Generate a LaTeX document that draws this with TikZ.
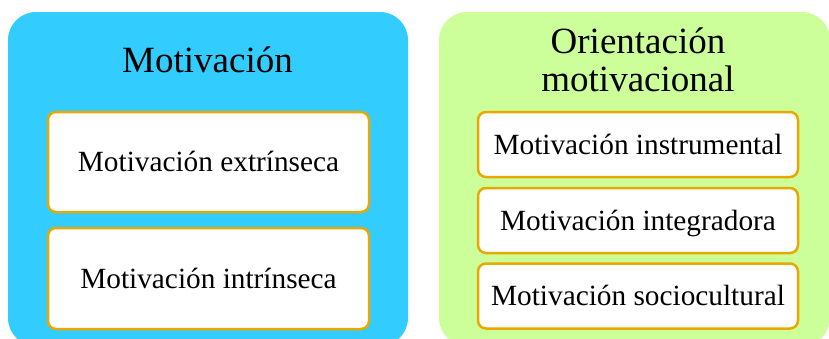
\documentclass[tikz,border=0pt]{standalone}
\usepackage{fontspec}
\setmainfont{Liberation Serif}
\definecolor{panelblue}{RGB}{51,204,255}
\definecolor{panelgreen}{RGB}{204,255,153}
\definecolor{itemborder}{RGB}{232,168,0}
\begin{document}
\begin{tikzpicture}[x=1pt,y=-1pt,
  panel/.style={rectangle, rounded corners=28pt, draw=none, minimum height=334pt, inner sep=0pt},
  heading/.style={font=\fontsize{37}{38.4}\selectfont, inner sep=0pt, align=center},
  itembox/.style={rectangle, rounded corners=8pt, draw=itemborder, line width=2.5pt, fill=white,
    font=\fontsize{29.3}{31}\selectfont, inner sep=0pt, text height=19.4pt, text depth=0pt}]
  \useasboundingbox (0,0) rectangle (829,338);
  \clip (0,0) rectangle (829,338);

  % two coloured panels
  \node[panel, fill=panelblue, minimum width=400pt] (left) at (208,179) {};
  \node[panel, fill=panelgreen, minimum width=391pt] (right) at (634.5,179) {};

  % headings
  \node[heading, anchor=base] (lefttitle) at (207.5,72.7) {Motivación};
  \node[heading, anchor=base] (righttitle1) at (638,53.3) {Orientación};
  \node[heading, anchor=base] (righttitle2) at (638,91.7) {motivacional};

  % items of the first panel
  \node[itembox, minimum width=321pt, minimum height=100pt] (ext) at (208.5,162) {Motivación extrínseca};
  \node[itembox, minimum width=321pt, minimum height=101pt] (int) at (208.5,278.5) {Motivación intrínseca};

  % items of the second panel
  \node[itembox, minimum width=320pt, minimum height=65pt] (ins) at (638,144.5) {Motivación instrumental};
  \node[itembox, minimum width=320pt, minimum height=65pt] (itg) at (638,220.5) {Motivación integradora};
  \node[itembox, minimum width=320pt, minimum height=65pt] (soc) at (638,296) {Motivación sociocultural};
\end{tikzpicture}
\end{document}
